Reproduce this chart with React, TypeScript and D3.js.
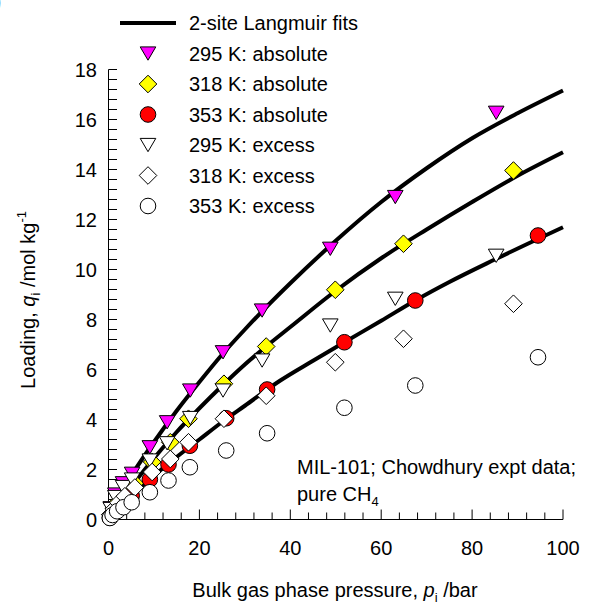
import React from "react";
import * as d3 from "d3";

// Pressure (bar) and loading (mol/kg) for the measured points
const p295 = [0.5, 1.5, 3.2, 5.2, 9.1, 12.9, 18.0, 25.2, 33.8, 48.8, 63.1, 85.3];
const abs295 = [0.45, 1.0, 1.45, 1.83, 2.89, 3.89, 5.16, 6.69, 8.36, 10.83, 12.9, 16.27];
const exc295 = [0.42, 0.9, 1.3, 1.6, 2.36, 3.05, 4.06, 5.16, 6.36, 7.76, 8.83, 10.55];

const p318 = [0.4, 1.2, 2.2, 3.6, 5.8, 9.6, 13.6, 17.6, 25.4, 34.7, 49.9, 64.9, 89.1];
const abs318 = [0.2, 0.45, 0.72, 1.02, 1.45, 2.3, 3.09, 4.03, 5.43, 6.92, 9.19, 11.03, 13.96];
const exc318 = [0.19, 0.42, 0.67, 0.93, 1.28, 1.9, 2.42, 3.09, 4.03, 4.95, 6.29, 7.23, 8.63];

const p353 = [0.3, 0.9, 1.9, 3.3, 5.1, 9.1, 13.2, 17.9, 25.9, 34.9, 51.9, 67.5, 94.5];
const abs353 = [0.07, 0.2, 0.4, 0.65, 0.95, 1.6, 2.2, 2.95, 4.05, 5.2, 7.09, 8.76, 11.36];
const exc353 = [0.06, 0.18, 0.33, 0.49, 0.69, 1.09, 1.56, 2.09, 2.76, 3.45, 4.47, 5.36, 6.49];

// 2-site Langmuir fit curves
const fitP295 = [0, 2, 5, 10, 15, 20, 25, 30, 35, 40, 50, 60, 70, 80, 90, 100];
const fitQ295 = [0, 0.85, 1.75, 3.1, 4.35, 5.5, 6.6, 7.6, 8.55, 9.45, 11.15, 12.7, 14.05, 15.25, 16.25, 17.16];
const fitP318 = [0, 5, 10, 15, 20, 25, 30, 35, 40, 50, 60, 70, 80, 90, 100];
const fitQ318 = [0, 1.3, 2.45, 3.5, 4.45, 5.35, 6.2, 6.97, 7.7, 9.15, 10.45, 11.6, 12.7, 13.75, 14.69];
const fitP353 = [0, 5, 10, 15, 20, 25, 30, 37.8, 45, 51.9, 60, 67.5, 75, 85, 100];
const fitQ353 = [0, 0.93, 1.75, 2.5, 3.2, 3.9, 4.55, 5.56, 6.35, 7.09, 7.95, 8.76, 9.5, 10.4, 11.69];

const xTicks = [0, 20, 40, 60, 80, 100];
const yTicks = [0, 2, 4, 6, 8, 10, 12, 14, 16, 18];

const legendLabels = [
  "2-site Langmuir fits",
  "295 K: absolute",
  "318 K: absolute",
  "353 K: absolute",
  "295 K: excess",
  "318 K: excess",
  "353 K: excess",
];

const FONT = "'Liberation Sans', Arial, Helvetica, sans-serif";

type Shape = "tri" | "dia" | "cir";

function Marker({ shape, cx, cy, fill }: { shape: Shape; cx: number; cy: number; fill: string }) {
  const common = { fill, stroke: "#000", strokeWidth: 1 };
  if (shape === "cir") return <circle cx={cx} cy={cy} r={7.8} {...common} />;
  if (shape === "dia") {
    const h = 8.8;
    return <path d={`M${cx},${cy - h}L${cx + h},${cy}L${cx},${cy + h}L${cx - h},${cy}Z`} {...common} />;
  }
  const w = 7.8;
  return (
    <path
      d={`M${cx - w},${cy - 6.6}L${cx + w},${cy - 6.6}L${cx},${cy + 6.7}Z`}
      {...common}
    />
  );
}

export default function App() {
  const W = 602;
  const H = 613;
  const x = d3.scaleLinear().domain([0, 100]).range([108.5, 563]);
  const y = d3.scaleLinear().domain([0, 18]).range([519.5, 69.5]);

  const line = d3
    .line<[number, number]>()
    .x((d) => x(d[0]))
    .y((d) => y(d[1]))
    .curve(d3.curveMonotoneX);

  const fits = [
    fitP295.map((p, i) => [p, fitQ295[i]] as [number, number]),
    fitP318.map((p, i) => [p, fitQ318[i]] as [number, number]),
    fitP353.map((p, i) => [p, fitQ353[i]] as [number, number]),
  ];

  const series: { p: number[]; q: number[]; shape: Shape; fill: string }[] = [
    { p: p295, q: abs295, shape: "tri", fill: "#ff00ff" },
    { p: p318, q: abs318, shape: "dia", fill: "#ffff00" },
    { p: p353, q: abs353, shape: "cir", fill: "#ff0000" },
    { p: p295, q: exc295, shape: "tri", fill: "#ffffff" },
    { p: p318, q: exc318, shape: "dia", fill: "#ffffff" },
    { p: p353, q: exc353, shape: "cir", fill: "#ffffff" },
  ];

  const xMinor = d3.range(0, 101, 4);
  const yMinor = d3.range(0, 18.01, 0.4);
  const x0 = x(0);
  const yBase = y(0);

  return (
    <svg
      width={W}
      height={H}
      style={{ position: "absolute", left: 0, top: 0, background: "#fff" }}
      fontFamily={FONT}
    >
      <rect width={W} height={H} fill="#fff" />
      <text x={-7} y={10} fontSize={26} fill="#000">)</text>

      {/* axes */}
      <line x1={x0} x2={x0} y1={y(18)} y2={yBase} stroke="#000" strokeWidth={1} />
      <line x1={x0} x2={x(100)} y1={yBase} y2={yBase} stroke="#000" strokeWidth={1} />
      {yMinor.map((v) => (
        <line key={"ym" + v} x1={x0} x2={x0 + 8.5} y1={y(v)} y2={y(v)} stroke="#000" strokeWidth={1} />
      ))}
      {xMinor.map((v) => (
        <line
          key={"xm" + v}
          x1={x(v)}
          x2={x(v)}
          y1={yBase}
          y2={yBase - (v % 20 === 0 ? 10 : 7)}
          stroke="#000"
          strokeWidth={1}
        />
      ))}
      {yTicks.map((v) => (
        <text key={"yt" + v} x={97} y={y(v) + 7} fontSize={20} textAnchor="end" fill="#000">
          {v}
        </text>
      ))}
      {xTicks.map((v) => (
        <text key={"xt" + v} x={x(v)} y={555} fontSize={20} textAnchor="middle" fill="#000">
          {v}
        </text>
      ))}

      {/* axis titles */}
      <text transform="translate(35,300) rotate(-90)" fontSize={20} textAnchor="middle" fill="#000">
        Loading, <tspan fontStyle="italic">q</tspan>
        <tspan fontSize={13} dy={5}>i</tspan>
        <tspan dy={-5}> /mol kg</tspan>
        <tspan fontSize={13} dy={-9}>-1</tspan>
      </text>
      <text x={335} y={597} fontSize={20} textAnchor="middle" fill="#000">
        Bulk gas phase pressure, <tspan fontStyle="italic">p</tspan>
        <tspan fontSize={13} dy={5}>i</tspan>
        <tspan dy={-5}> /bar</tspan>
      </text>

      {/* fitted curves */}
      {fits.map((f, i) => (
        <path key={"fit" + i} d={line(f) ?? ""} fill="none" stroke="#000" strokeWidth={4} />
      ))}

      {/* data points */}
      {series.map((s, si) => (
        <g key={"s" + si}>
          {s.p.map((p, i) => (
            <Marker key={i} shape={s.shape} cx={x(p)} cy={y(s.q[i])} fill={s.fill} />
          ))}
        </g>
      ))}

      {/* legend */}
      <line x1={120} x2={176} y1={23} y2={23} stroke="#000" strokeWidth={4} />
      {series.map((s, i) => (
        <Marker key={"lg" + i} shape={s.shape} cx={148} cy={53.5 + i * 30.5} fill={s.fill} />
      ))}
      {legendLabels.map((t, i) => (
        <text key={"lt" + i} x={189} y={23 + i * 30.5 + 7} fontSize={20} fill="#000">
          {t}
        </text>
      ))}

      {/* annotation */}
      <text x={297} y={474} fontSize={20} fill="#000">MIL-101; Chowdhury expt data;</text>
      <text x={297} y={501} fontSize={20} fill="#000">
        pure CH<tspan fontSize={13} dy={5}>4</tspan>
      </text>
    </svg>
  );
}
